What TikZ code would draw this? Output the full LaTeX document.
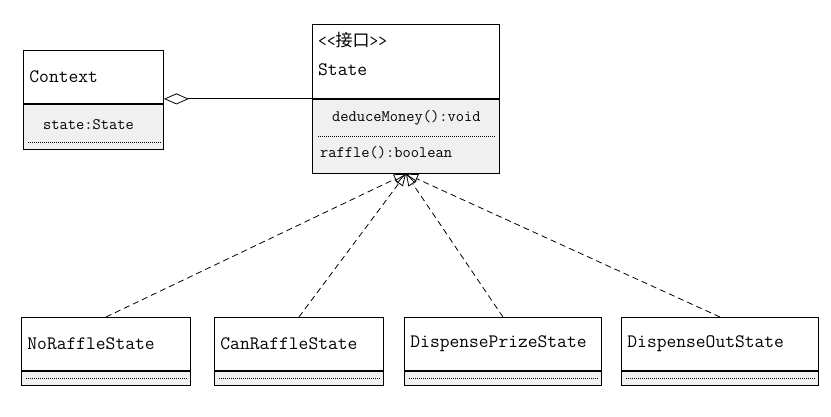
\documentclass[tikz,border=0pt]{standalone}
\usepackage{fontspec}
\newfontfamily\cjkfont{Noto Sans CJK SC}
\usetikzlibrary{arrows.meta}
\usetikzlibrary{positioning}

\begin{document}
\begin{tikzpicture}[x=1pt,y=-1pt,
  clshead/.style = {draw, line width=0.9pt, fill=white, anchor=north west, inner xsep=6pt, inner ysep=0pt, align=left, font=\ttfamily\fontsize{19}{22}\selectfont},
  clsbody/.style = {draw, line width=0.9pt, fill=black!6, inner sep=0pt},
  member/.style = {anchor=west, inner sep=0pt, font=\ttfamily\fontsize{16}{19}\selectfont},
  sep/.style = {line width=0.6pt, dash pattern=on 1pt off 1pt},
  realise/.style = {line width=0.8pt, dash pattern=on 6pt off 4pt, -{Triangle[open,length=12pt,width=10pt]}},
  aggr/.style = {line width=0.8pt, {Diamond[open,length=25pt,width=11pt]}-}
  ]
\useasboundingbox (0,0) rectangle (831,417);

\node[clshead, text width=128pt, minimum height=53pt] (ctx) at (23,50) {Context};
\node[clsbody, minimum width=140pt, minimum height=45pt, below=0pt of ctx] (ctxb) {};
\node[member] (ctxattr) at ([xshift=20pt,yshift=-21pt]ctxb.north west) {state:State};
\draw[sep] ([xshift=5pt,yshift=-38pt]ctxb.north west) -- ([xshift=-3pt,yshift=-38pt]ctxb.north east);

\node[clshead, text width=175pt, minimum height=74pt] (st) at (312,24) {};
\node[member, font=\ttfamily\fontsize{17}{20}\selectfont] (stereo) at ([xshift=6pt,yshift=-16pt]st.north west) {<<\cjkfont 接口\ttfamily>>};
\node[member, font=\ttfamily\fontsize{19}{22}\selectfont] (stname) at ([xshift=6pt,yshift=-46pt]st.north west) {State};
\node[clsbody, minimum width=187pt, minimum height=74pt, below=0pt of st] (stb) {};
\node[member] (deduce) at ([xshift=20pt,yshift=-19pt]stb.north west) {deduceMoney():void};
\draw[sep] ([xshift=6pt,yshift=-37pt]stb.north west) -- ([xshift=-4pt,yshift=-37pt]stb.north east);
\node[member] (raffle) at ([xshift=8pt,yshift=-54pt]stb.north west) {raffle():boolean};

\draw[aggr] (st.south west -| ctx.east) -- (st.south west);

\foreach \name/\x/\w/\lbl in {noraffle/21/169/NoRaffleState, canraffle/214/169/CanRaffleState,
    prize/404/197/DispensePrizeState, out/621/197/DispenseOutState}{
  \node[clshead, text width=\w pt-12pt, minimum height=53pt] (\name) at (\x,317) {\lbl};
  \node[clsbody, minimum width=\w pt, minimum height=14pt, below=0pt of \name] (\name b) {};
  \draw[sep] ([xshift=5pt]\name b.west) -- ([xshift=-4pt]\name b.east);
  \draw[realise] (\name.north) -- (stb.south);
}

\end{tikzpicture}
\end{document}
